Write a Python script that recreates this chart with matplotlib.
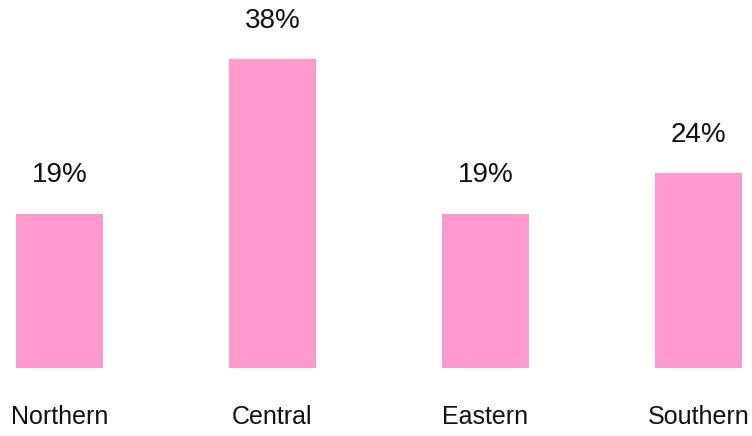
import matplotlib
matplotlib.use("Agg")
import matplotlib.pyplot as plt

categories = ["Northern", "Central", "Eastern", "Southern"]
shares = [19, 38, 19, 24]

BAR_COLOR = "#FF99CC"

plt.rcParams["font.family"] = ["Liberation Sans", "DejaVu Sans"]

fig = plt.figure(figsize=(7.52, 4.36), dpi=100)
ax = fig.add_axes([0, 68 / 436, 1, 368 / 436])

xs = list(range(len(categories)))
ax.bar(xs, shares, width=0.41, color=BAR_COLOR)

for x, v, name in zip(xs, shares, categories):
    ax.annotate(f"{v}%", (x, v), xytext=(0, 27.5), textcoords="offset points",
                ha="center", va="center", fontsize=20, color="#111111")
    ax.annotate(name, (x, 0), xytext=(0, -35.5), textcoords="offset points",
                ha="center", va="center", fontsize=18, color="#111111",
                annotation_clip=False)

ax.set_xlim(-0.279, 3.251)
ax.set_ylim(0, 45.26)
ax.axis("off")

fig.savefig("out.png", dpi=100)
